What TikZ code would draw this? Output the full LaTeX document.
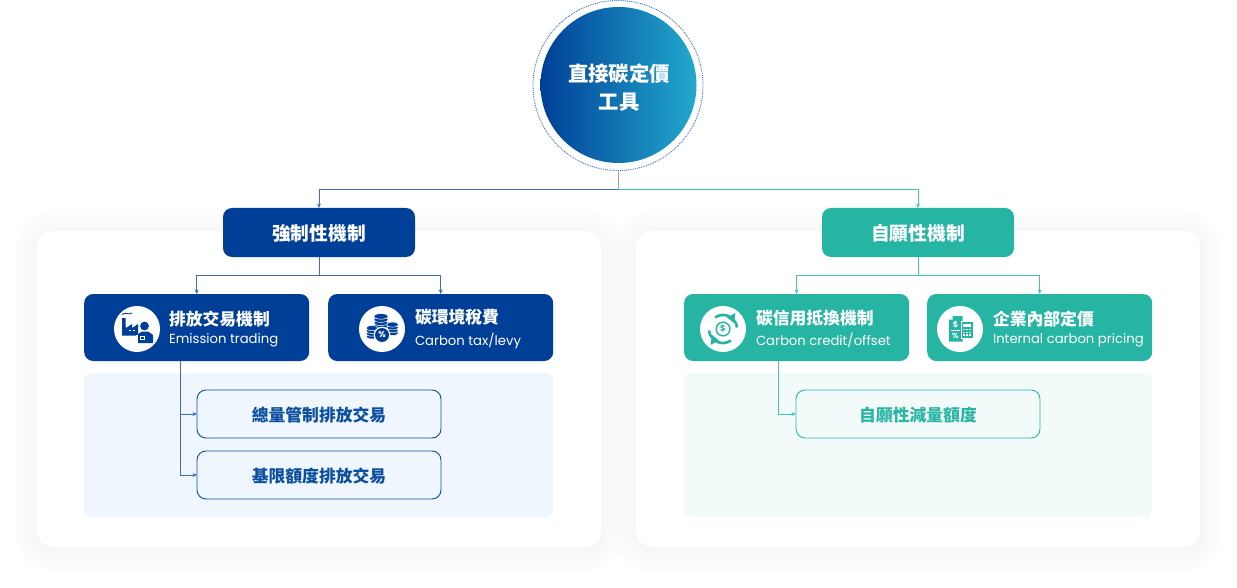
\documentclass[tikz,border=0pt]{standalone}
\usepackage{fontspec}
\usepackage{xcolor}
\usetikzlibrary{arrows.meta}
\setmainfont{Poppins}
\newfontfamily\cjk{Noto Sans CJK TC}
\definecolor{navy}{HTML}{003F97}
\definecolor{teal}{HTML}{26B5A3}
\definecolor{sky}{HTML}{22A9CC}
\definecolor{navyline}{HTML}{3F6DB5}
\definecolor{tealline}{HTML}{45C4B4}
\definecolor{stemline}{HTML}{8FA3C4}
\definecolor{navypale}{HTML}{F0F6FD}
\definecolor{tealpale}{HTML}{F3FBFA}
\definecolor{subnavy}{HTML}{0B4F9E}
\definecolor{subteal}{HTML}{2BB5A4}
\newcommand{\cardtext}[2]{{\cjk\fontsize{16.8}{20}\selectfont\bfseries #1}\\[6pt]{\fontsize{13.2}{16}\selectfont #2}}
\newcommand{\nudge}[1]{\raisebox{-1pt}[\height][\depth]{#1}}
\tikzset{
	x=1pt,y=-1pt,
	every node/.style={inner sep=0pt,outer sep=0pt},
	panel/.style={fill=white,rounded corners=16pt},
	inset/.style={rounded corners=7pt},
	group/.style={minimum width=192pt,minimum height=49pt,rounded corners=9pt,text=white,font=\cjk\fontsize{18.7}{22}\selectfont\bfseries},
	card/.style={minimum width=225pt,minimum height=67pt,rounded corners=9pt},
	cardlabel/.style={anchor=west,align=left,text=white},
	badge/.style={circle,fill=white,minimum size=46pt},
	sub/.style={minimum width=244pt,minimum height=48pt,rounded corners=9pt,draw,line width=0.9pt,font=\cjk\fontsize{16.8}{20}\selectfont\bfseries},
	link/.style={line width=1pt,-{Stealth[length=4.5pt,width=4pt]}},
	plain/.style={line width=1pt},
	coin/.style={fill=navy,draw=white,line width=0.5pt}
}
\begin{document}
\begin{tikzpicture}
	\useasboundingbox (0,0) rectangle (1237,588);
	\fill [white] (0,0) rectangle (1237,588);
	\foreach \e in {24,21,18,15,12,9,6,3} {
		\fill [black,opacity=0.003,rounded corners=16pt+\e] (37-\e,231-\e+2) rectangle (601+\e,547+\e+2);
		\fill [black,opacity=0.003,rounded corners=16pt+\e] (636-\e,231-\e+2) rectangle (1200+\e,547+\e+2);
	}
	\fill [panel] (37,231) rectangle (601,547);
	\fill [panel] (636,231) rectangle (1200,547);
	\fill [inset,navypale] (84,373) rectangle (553,517);
	\fill [inset,tealpale] (684,373) rectangle (1152,517);

	\shade [left color=navy,right color=sky] (618.5,85) circle (78);
	\node [circle,minimum size=170pt,draw=navyline,line width=0.9pt,densely dotted] (root) at (618,85.5) {};
	\node [text=white,align=center,font=\cjk\fontsize{20.4}{28}\selectfont\bfseries] (roottext) at (619,88) {直接碳定價\\工具};

	\node [group,fill=navy] (forced) at (319,232.5) {\nudge{強制性機制}};
	\node [group,fill=teal] (volun) at (918,232.5) {\nudge{自願性機制}};

	\node [card,fill=navy] (trade) at (196.7,327.5) {};
	\node [card,fill=navy] (tax) at (440.7,327.5) {};
	\node [card,fill=teal] (credit) at (796.6,327.5) {};
	\node [card,fill=teal] (internal) at (1039.7,327.5) {};

	\node [badge] (tradeicon) at (137,329) {};
	\node [badge] (taxicon) at (382,329) {};
	\node [badge] (crediticon) at (723,329) {};
	\node [badge] (internalicon) at (960,329) {};

	\node [cardlabel] (tradetext) at (169,329) {\cardtext{排放交易機制}{Emission trading}};
	\node [cardlabel] (taxtext) at (415,329) {\cardtext{碳環境稅費}{Carbon tax/levy}};
	\node [cardlabel] (credittext) at (756,329) {\cardtext{碳信用抵換機制}{Carbon credit/offset}};
	\node [cardlabel] (internaltext) at (993,329) {\cardtext{企業內部定價}{Internal carbon pricing}};

	\node [sub,draw=subnavy,text=subnavy] (cap) at (319,414) {\nudge{總量管制排放交易}};
	\node [sub,draw=subnavy,text=subnavy] (base) at (319,475) {\nudge{基限額度排放交易}};
	\node [sub,draw=subteal,text=subteal] (reduce) at (918,414) {\nudge{自願性減量額度}};

	\coordinate (rootsplit) at (618,190);
	\coordinate (forcedsplit) at (319,275);
	\coordinate (volunsplit) at (918,275);
	\coordinate (tradeout) at (180,361);
	\coordinate (creditout) at (778,361);

	\draw [plain,stemline] (root.south) -- (rootsplit);
	\draw [link,navyline] (rootsplit) -| (forced.north);
	\draw [link,tealline] (rootsplit) -| (volun.north);
	\draw [plain,navyline] (forced.south) -- (forcedsplit);
	\draw [link,navyline] (forcedsplit) -| (trade.north);
	\draw [link,navyline] (forcedsplit) -| (tax.north);
	\draw [plain,tealline] (volun.south) -- (volunsplit);
	\draw [link,tealline] (volunsplit) -| (credit.north);
	\draw [link,tealline] (volunsplit) -| (internal.north);
	\draw [link,navyline] (tradeout) |- (cap.west);
	\draw [link,navyline] (tradeout) |- (base.west);
	\draw [link,tealline] (creditout) |- (reduce.west);

	\begin{scope}[shift={(137,329)}]
		\fill [navy] (-15,-11) -- (-11.5,-11) -- (-11,6.5) -- (-15,6.5) -- cycle;
		\fill [navy] (-11,-1) -- (-5,-5) -- (-5,-1) -- (1,-5) -- (1,6.5) -- (-11,6.5) -- cycle;
		\draw [navy,line width=0.9pt] (-15,-14.5) .. controls (-11,-17.5) and (-9,-13.5) .. (-5,-16);
		\fill [white] (-8,0.5) rectangle (-6,2.2);
		\fill [white] (-4,0.5) rectangle (-2,2.2);
		\fill [white] (3,-3) rectangle (14,5);
		\fill [navy] (7.5,-3) circle (4.4);
		\fill [white] (-1,6) rectangle (1,14);
		\fill [navy] (1,14) -- (1,5) -- (5,2.5) -- (11,2.5) -- (16,6) -- (16,14) -- cycle;
		\fill [white] (3,6.5) rectangle (8,11);
		\fill [navy] (4,8) rectangle (7,9.5);
	\end{scope}

	\begin{scope}[shift={(382,329)}]
		\foreach \k in {0,...,3} {
			\fill [coin] (-1,-3-\k*3.2) ellipse (7 and 2.8);
		}
		\foreach \k in {0,...,3} {
			\fill [coin] (10.5,4-\k*2.8) ellipse (6 and 2.5);
		}
		\foreach \k in {0,...,3} {
			\fill [coin] (-10,7.5-\k*2.8) ellipse (6 and 2.5);
		}
		\fill [white] (0,6) circle (8.3);
		\fill [navy] (0,6) circle (7);
		\node [text=white,font=\fontsize{8.5}{10}\selectfont\bfseries] (taxmark) at (0,6) {\%};
	\end{scope}

	\begin{scope}[shift={(723,329)}]
		\draw [teal,line width=2.6pt] (-14,1.5) arc [start angle=186,end angle=305,x radius=14,y radius=-14];
		\fill [teal] (12.5,-16) -- (11,-6) -- (4,-11.5) -- cycle;
		\draw [teal,line width=2.6pt] (14,-1.5) arc [start angle=6,end angle=125,x radius=14,y radius=-14];
		\fill [teal] (-12.5,16) -- (-11,6) -- (-4,11.5) -- cycle;
		\fill [teal] (0,0) circle (7.6);
		\fill [white] (0,0) circle (6);
		\node [text=teal,font=\fontsize{8.5}{10}\selectfont\bfseries] (creditmark) at (0,0) {\$};
	\end{scope}

	\begin{scope}[shift={(960,329)}]
		\fill [teal] (-7.5,-13) -- (2.5,-13) -- (2.5,12.5) -- (-11,12.5) -- (-11,-9.5) -- cycle;
		\fill [white] (-7.5,-13) -- (-7.5,-9.5) -- (-11,-9.5) -- cycle;
		\fill [white] (0.5,-8.5) rectangle (13.5,9.5);
		\fill [teal] (1.5,-7.5) rectangle (12.5,8.5);
		\fill [white] (3.2,-5.5) rectangle (10.8,-2.5);
		\foreach \px in {3.2,6.2,9.2} {
			\foreach \py in {-0.5,2.5,5.2} {
				\fill [white] (\px,\py) rectangle (\px+1.7,\py+1.7);
			}
		}
		\node [text=white,font=\fontsize{8}{10}\selectfont\bfseries] (internaldollar) at (-4.5,-4.5) {\$};
		\fill [white] (-9,1) rectangle (-0.5,1.8);
		\node [text=white,font=\fontsize{7.5}{10}\selectfont\bfseries] (internalpct) at (-4.5,6.5) {\%};
	\end{scope}
\end{tikzpicture}
\end{document}
